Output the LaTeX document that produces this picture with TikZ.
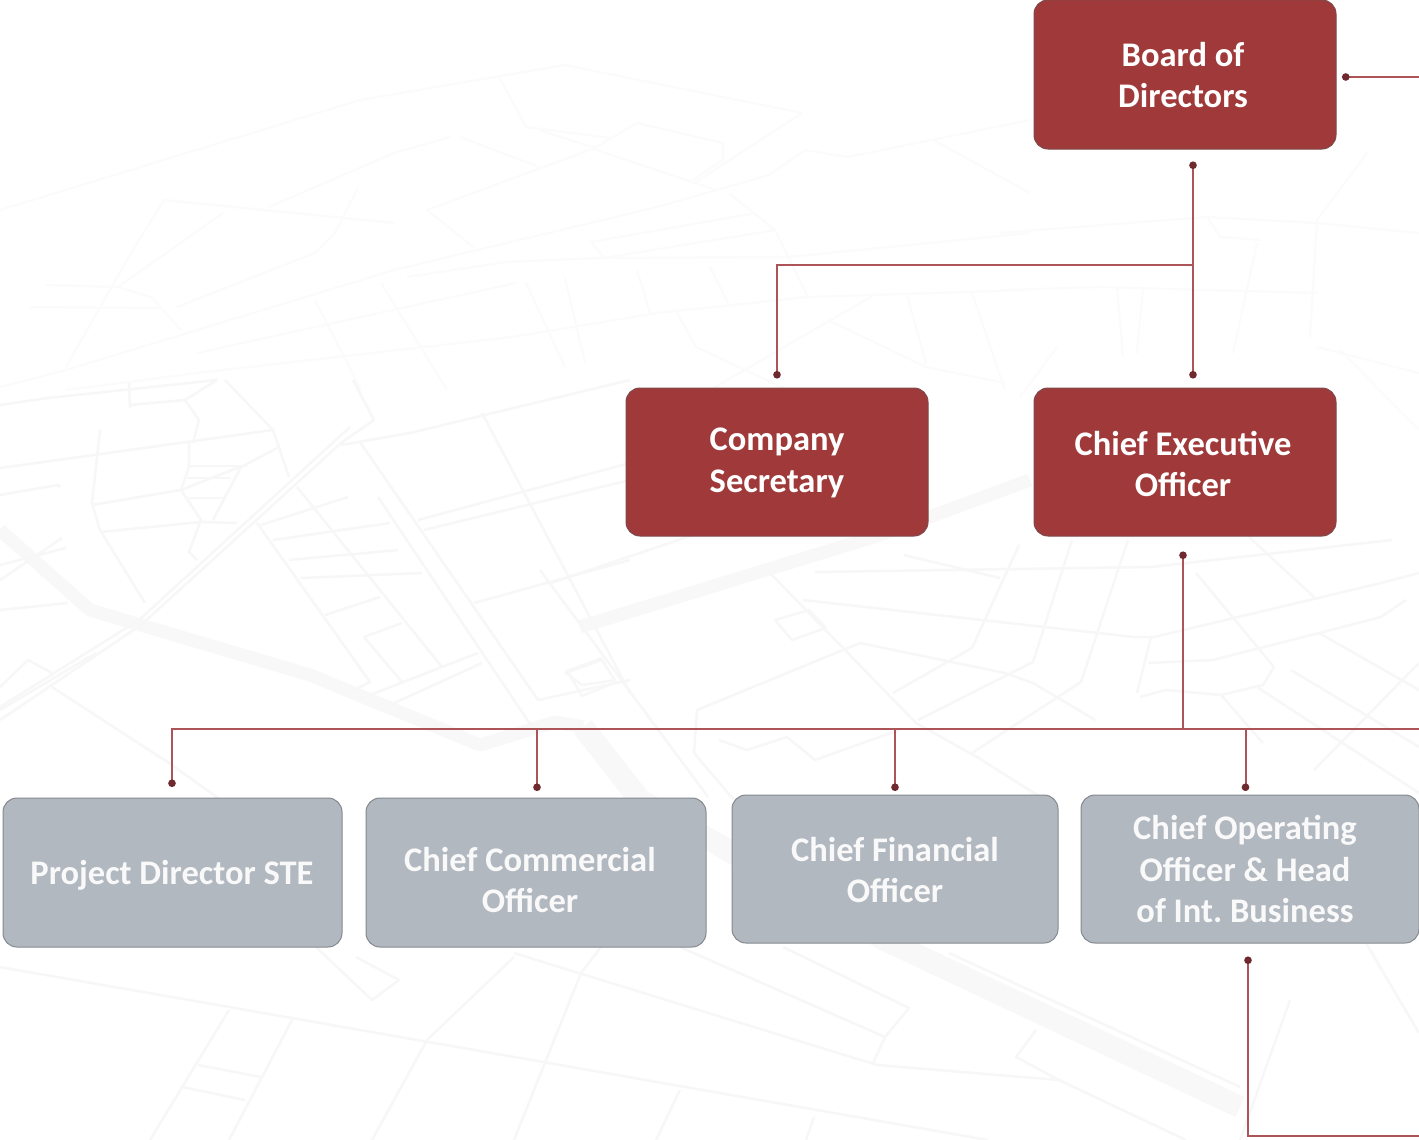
\documentclass[tikz,border=0pt]{standalone}
\usepackage{fontspec}
\setmainfont{Carlito}
\usetikzlibrary{arrows.meta,positioning}
\definecolor{maroon}{HTML}{A03A3A}
\definecolor{maroonedge}{HTML}{7D4A4C}
\definecolor{slate}{HTML}{B2B8C0}
\definecolor{slateedge}{HTML}{85898F}
\definecolor{wire}{HTML}{AD5459}
\definecolor{dotc}{HTML}{6E2A2E}
\definecolor{roadc}{HTML}{F7F7F7}
\definecolor{roadf}{HTML}{FBFBFB}
\definecolor{roadw}{HTML}{F8F8F8}
\tikzset{
  x=1pt,y=-1pt,
  road/.style={draw=roadc,line width=2.5pt,line join=round},
  roadfaint/.style={draw=roadf,line width=2pt,line join=round},
  roadwide/.style={draw=roadw,line width=13pt,line join=round},
  roadvast/.style={draw=roadw,line width=22pt,line join=round},
  redbox/.style={draw=maroonedge,line width=1pt,fill=maroon,rounded corners=14pt,inner sep=0pt},
  greybox/.style={draw=slateedge,line width=1pt,fill=slate,rounded corners=14pt,inner sep=0pt},
  boxtext/.style={text=white,font=\fontsize{34.5}{41.5}\selectfont\bfseries\frenchspacing,align=center,inner sep=0pt},
  greytext/.style={boxtext,text=white!92!slate},
  wiring/.style={draw=wire,line width=2pt},
  dotstart/.style={{Circle[length=7.5pt,color=dotc]}-},
  dotend/.style={-{Circle[length=7.5pt,color=dotc]}},
  dotboth/.style={{Circle[length=7.5pt,color=dotc]}-{Circle[length=7.5pt,color=dotc]}},
}
\begin{document}
\begin{tikzpicture}
\useasboundingbox (0,0) rectangle (1419,1140);
\clip (0,0) rectangle (1419,1140);
\fill[white] (0,0) rectangle (1419,1140);
% --- street map watermark ---
\draw[roadfaint] (0,387)--(66,370)--(394,270)--(657,207)--(769,175)--(805,150)--(848,157)--(1030,120);
\draw[roadfaint] (565,65)--(802,113)--(696,182);
\draw[roadfaint] (723,143)--(723,160)--(693,180);
\draw[roadfaint] (591,148)--(716,190);
\draw[roadfaint] (637,123)--(723,143);
\draw[roadfaint] (539,130)--(595,148);
\draw[roadfaint] (637,123)--(595,148)--(427,210);
\draw[roadfaint] (460,137)--(539,167);
\draw[roadfaint] (450,137)--(394,153)--(269,207);
\draw[roadfaint] (499,77)--(526,127)--(611,138);
\draw[roadfaint] (1030,233)--(788,257)--(601,258)--(506,262)--(407,277);
\draw[roadfaint] (1030,290)--(808,297)--(657,313)--(512,337)--(197,373)--(66,390);
\draw[roadfaint] (516,283)--(197,353);
\draw[roadfaint] (775,230)--(604,258);
\draw[roadfaint] (756,213)--(591,242)--(604,257);
\draw[roadfaint] (775,230)--(808,297);
\draw[roadfaint] (710,267)--(729,305);
\draw[roadfaint] (637,270)--(650,313);
\draw[roadfaint] (565,278)--(585,363);
\draw[roadfaint] (526,283)--(565,367);
\draw[roadfaint] (381,283)--(447,390);
\draw[roadfaint] (315,300)--(361,390);
\draw[roadfaint] (677,313)--(696,347)--(788,390);
\draw[roadfaint] (972,293)--(1005,390);
\draw[roadfaint] (907,295)--(926,363);
\draw[roadfaint] (828,320)--(926,367)--(1005,383);
\draw[roadfaint] (874,295)--(710,390);
\draw[roadfaint] (933,140)--(1030,193);
\draw[roadfaint] (729,193)--(775,230);
\draw[roadfaint] (427,210)--(473,247);
\draw[roadfaint] (358,188)--(335,233)--(315,253)--(177,307);
\draw[roadfaint] (164,200)--(131,253)--(66,367);
\draw[roadfaint] (164,200)--(394,223);
\draw[roadfaint] (223,213)--(118,287)--(151,297)--(181,330);
\draw[roadfaint] (30,307)--(161,308);
\draw[roadfaint] (46,285)--(118,287);
\draw[roadfaint] (0,210)--(360,100)--(565,65);
\draw[roadfaint] (1000,233)--(1207,217)--(1317,223)--(1419,233);
\draw[roadfaint] (1310,337)--(1317,220)--(1367,153);
\draw[roadfaint] (1000,290)--(1100,287)--(1317,293);
\draw[roadfaint] (1317,347)--(1419,373);
\draw[roadfaint] (1057,347)--(1020,397);
\draw[roadfaint] (1257,243)--(1233,353);
\draw[roadfaint] (1117,287)--(1123,357);
\draw[roadfaint] (1143,287)--(1137,353);
\draw[roadfaint] (1207,217)--(1220,237)--(1260,240);
\draw[roadfaint] (1340,350)--(1419,430);
% thick roads
\draw[roadwide] (0,530)--(90,610)--(310,675)--(480,745)--(555,722)--(583,727);
\draw[roadvast] (583,727)--(640,800)--(885,940)--(1240,1107);
\draw[roadwide] (580,627)--(880,535)--(1030,480);
% mid map
\draw[road] (350,427)--(139,620)--(0,707);
\draw[road] (374,420)--(341,443)--(141,625)--(0,720);
\draw[road] (353,380)--(374,420);
\draw[road] (360,442)--(538,700);
\draw[road] (378,497)--(534,730);
\draw[road] (482,413)--(630,693);
\draw[road] (297,487)--(442,667);
\draw[road] (257,523)--(370,682)--(354,690);
\draw[road] (341,445)--(410,433)--(630,380);
\draw[road] (273,430)--(289,477);
\draw[road] (225,380)--(273,430);
\draw[road] (0,468)--(273,430);
\draw[road] (100,430)--(92,503)--(100,530)--(145,603);
\draw[road] (92,505)--(181,490)--(245,465)--(277,448);
\draw[road] (189,443)--(189,467)--(181,490)--(201,520)--(189,552)--(197,560);
\draw[road] (100,532)--(201,522)--(237,523);
\draw[road] (241,467)--(213,520);
\draw[road] (189,466)--(247,466);
\draw[road] (187,478)--(231,478);
\draw[road] (189,498)--(223,498);
\draw[road] (418,520)--(630,463);
\draw[road] (424,530)--(630,480);
\draw[road] (261,525)--(348,497);
\draw[road] (273,540)--(390,523);
\draw[road] (289,560)--(398,550);
\draw[road] (301,578)--(422,573);
\draw[road] (325,615)--(380,597);
\draw[road] (364,637)--(402,623);
\draw[road] (364,637)--(402,682);
\draw[road] (370,695)--(478,653);
\draw[road] (390,705)--(482,663);
\draw[road] (474,603)--(630,560);
\draw[road] (538,700)--(630,680);
\draw[road] (565,672)--(602,658);
\draw[road] (582,685)--(616,680);
\draw[road] (565,672)--(582,685);
\draw[road] (130,405)--(185,400)--(199,420)--(193,443);
\draw[road] (129,383)--(130,408);
\draw[road] (185,400)--(217,380);
\draw[road] (0,405)--(48,398)--(217,380);
\draw[road] (52,687)--(169,763)--(221,800);
\draw[road] (0,687)--(28,660)--(52,673);
\draw[road] (96,653)--(0,710);
\draw[road] (0,565)--(66,548);
\draw[road] (0,610)--(68,603);
\draw[road] (0,495)--(58,485)--(60,487);
\draw[road] (0,580)--(62,538);
% lower right map
\draw[road] (540,570)--(708,797);
\draw[road] (770,573)--(916,723)--(977,757)--(1045,800);
\draw[road] (803,600)--(1134,637)--(1154,637)--(1381,583)--(1419,573);
\draw[road] (815,572)--(1151,567)--(1392,540);
\draw[road] (904,555)--(1000,578);
\draw[road] (860,643)--(1005,673)--(1033,683)--(1095,720);
\draw[road] (697,710)--(860,643);
\draw[road] (697,710)--(694,753)--(745,813);
\draw[road] (719,740)--(747,750)--(787,737)--(815,760)--(899,730);
\draw[road] (893,693)--(972,648)--(1019,545);
\draw[road] (918,720)--(1033,662)--(1072,540);
\draw[road] (1081,682)--(1128,540);
\draw[road] (972,753)--(1081,682);
\draw[road] (1137,693)--(1151,637);
\draw[road] (1140,697)--(1165,690)--(1221,695)--(1263,685)--(1274,667)--(1196,573);
\draw[road] (1148,663)--(1213,660)--(1319,633)--(1381,617)--(1406,600);
\draw[road] (1221,695)--(1263,743);
\draw[road] (1291,670)--(1419,747);
\draw[road] (1257,687)--(1419,793);
\draw[road] (1419,663)--(1314,770);
\draw[road] (1319,633)--(1419,690);
\draw[road] (1249,537)--(1314,597);
\draw[road] (775,620)--(809,610)--(826,628)--(792,640)--cycle;
\draw[road] (568,672)--(602,660)--(616,682)--(582,696)--cycle;
\draw[road] (551,583)--(708,530);
% bottom map
\draw[road] (0,967)--(229,1007)--(988,1140);
\draw[road] (514,953)--(877,1065)--(1059,1080)--(1186,1140);
\draw[road] (514,957)--(427,1040)--(372,1140);
\draw[road] (581,973)--(514,1140);
\draw[road] (601,947)--(581,973);
\draw[road] (229,1010)--(150,1140);
\draw[road] (292,1020)--(229,1140);
\draw[road] (198,1065)--(261,1077);
\draw[road] (182,1087)--(245,1100);
\draw[road] (680,1090)--(656,1140);
\draw[road] (814,1117)--(806,1140);
\draw[road] (680,947)--(885,1037)--(873,1063);
\draw[road] (783,947)--(909,1008)--(885,1037);
\draw[road] (316,947)--(372,1000)--(399,980)--(356,957);
\draw[road] (949,953)--(1240,1087);
\draw[road] (1036,1030)--(1016,1057)--(1059,1080);
\draw[road] (1366,943)--(1419,1033);
\draw[road] (1290,1000)--(1240,1140);
% --- boxes ---
\node[redbox,minimum width=302pt,minimum height=149pt] (board) at (1185,74.5) {};
\node[redbox,minimum width=302pt,minimum height=148pt] (ceo) at (1185,462) {};
\node[redbox,minimum width=302pt,minimum height=148pt] (sec) at (777,462) {};
\node[greybox,minimum width=339pt,minimum height=149pt] (pd) at (172.5,872.5) {};
\node[greybox,minimum width=340pt,minimum height=149pt] (cco) at (536,872.5) {};
\node[greybox,minimum width=326pt,minimum height=148pt] (cfo) at (895,869) {};
\node[greybox,minimum width=338pt,minimum height=148pt] (coo) at (1250,869) {};
% --- labels ---
\node[boxtext] (boardt) at (1183,75) {Board of\\Directors};
\node[boxtext] (ceot) at (1183,464) {Chief Executive\\Officer};
\node[boxtext] (sect) at (777,463) {Company\\Secretary};
\node[greytext] (pdt) at (172,875.5) {Project Director STE};
\node[greytext] (ccot) at (530,880) {Chief Commercial\\Officer};
\node[greytext] (cfot) at (895,870) {Chief Financial\\Officer};
\node[greytext] (coot) at (1245,869) {Chief Operating\\Officer \& Head\\of Int. Business};
% --- connector ends ---
\coordinate (boardout) at (1342,77);
\coordinate (offtop) at (1419,77);
\coordinate (boardbelow) at (1193,161.5);
\coordinate (ceoabove) at (1193,378.5);
\coordinate (split) at (1193,265);
\coordinate (secturn) at (777,265);
\coordinate (secabove) at (777,378.5);
\coordinate (ceobelow) at (1183,551.5);
\coordinate (busjoin) at (1183,729);
\coordinate (busleft) at (172,729);
\coordinate (busright) at (1419,729);
\coordinate (pdabove) at (172,787);
\coordinate (ccojoin) at (537,729);
\coordinate (ccoabove) at (537,791);
\coordinate (cfojoin) at (895,729);
\coordinate (cfoabove) at (895,791);
\coordinate (coojoin) at (1245.5,729);
\coordinate (cooabove) at (1245.5,791);
\coordinate (coobelow) at (1248,956.5);
\coordinate (cooturn) at (1248,1136);
\coordinate (cooright) at (1419,1136);
% --- connectors ---
\draw[wiring,dotstart] (boardout) -- (offtop);
\draw[wiring,dotboth] (boardbelow) -- (ceoabove);
\draw[wiring,dotend] (split) -- (secturn) -- (secabove);
\draw[wiring,dotstart] (ceobelow) -- (busjoin);
\draw[wiring,dotend] (busright) -- (busleft) -- (pdabove);
\draw[wiring,dotend] (ccojoin) -- (ccoabove);
\draw[wiring,dotend] (cfojoin) -- (cfoabove);
\draw[wiring,dotend] (coojoin) -- (cooabove);
\draw[wiring,dotstart] (coobelow) -- (cooturn) -- (cooright);
\end{tikzpicture}
\end{document}
